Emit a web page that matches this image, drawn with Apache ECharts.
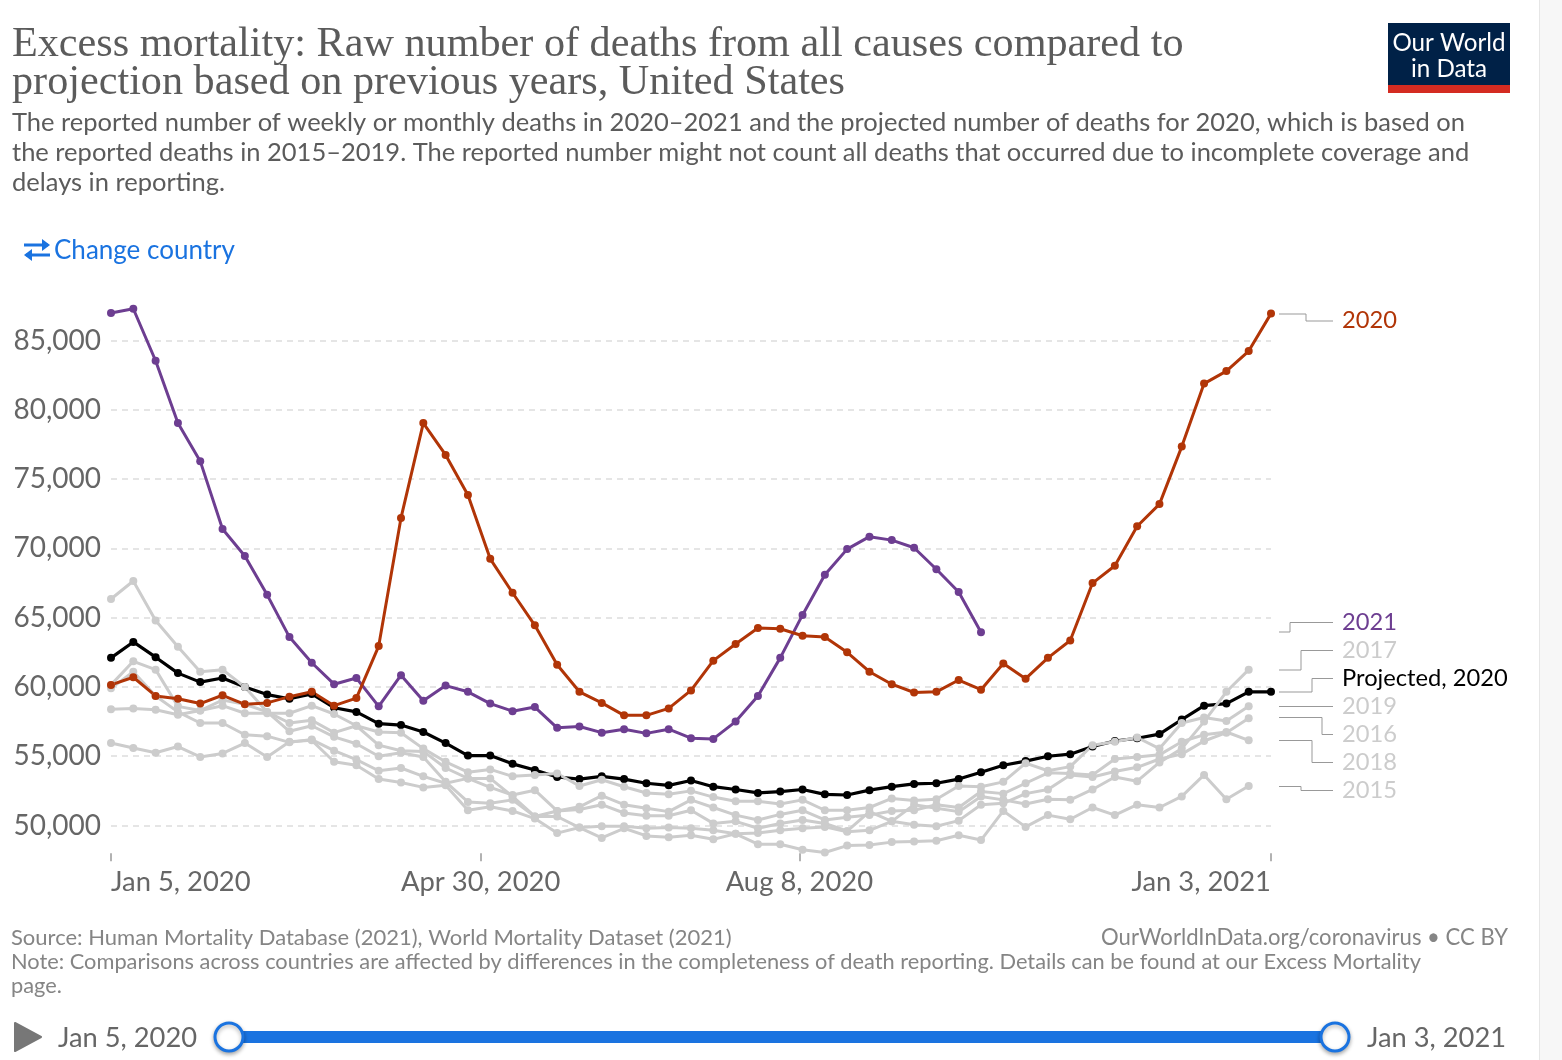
<!DOCTYPE html>
<html>
<head>
<meta charset="utf-8">
<title>Excess mortality, United States</title>
<script src="https://cdn.jsdelivr.net/npm/echarts@6/dist/echarts.min.js"></script>
<style>
html, body { margin: 0; padding: 0; background: #fff; overflow: hidden; }
#chart { width: 1562px; height: 1060px; }
</style>
</head>
<body>
<div id="chart"></div>
<script>
// weekly dates, week 1 to week 53
var weeks = [
  '2020-01-05','2020-01-12','2020-01-19','2020-01-26','2020-02-02','2020-02-09','2020-02-16','2020-02-23',
  '2020-03-01','2020-03-08','2020-03-15','2020-03-22','2020-03-29','2020-04-05','2020-04-12','2020-04-19',
  '2020-04-26','2020-05-03','2020-05-10','2020-05-17','2020-05-24','2020-05-31','2020-06-07','2020-06-14',
  '2020-06-21','2020-06-28','2020-07-05','2020-07-12','2020-07-19','2020-07-26','2020-08-02','2020-08-09',
  '2020-08-16','2020-08-23','2020-08-30','2020-09-06','2020-09-13','2020-09-20','2020-09-27','2020-10-04',
  '2020-10-11','2020-10-18','2020-10-25','2020-11-01','2020-11-08','2020-11-15','2020-11-22','2020-11-29',
  '2020-12-06','2020-12-13','2020-12-20','2020-12-27','2021-01-03'
];
var xTickDates = ['2020-01-05', '2020-04-30', '2020-08-08', '2021-01-03'];
var xTickLabels = ['Jan 5, 2020', 'Apr 30, 2020', 'Aug 8, 2020', 'Jan 3, 2021'];
var yTicks = [50000, 55000, 60000, 65000, 70000, 75000, 80000, 85000];

var deaths2021 = [87000,87300,83550,79050,76300,71400,69450,66650,63600,61750,60200,60650,58600,60850,59000,60100,
  59650,58800,58250,58550,57050,57150,56700,56950,56650,56950,56300,56250,57500,59350,62100,65200,68100,69950,
  70850,70600,70050,68500,66850,63950];
var deaths2020 = [60150,60700,59350,59150,58800,59400,58750,58850,59300,59650,58650,59200,62950,72200,79050,76750,
  73850,69250,66800,64450,61600,59650,58850,57950,57950,58450,59750,61900,63100,64250,64200,63700,63600,62500,
  61100,60200,59600,59650,60500,59800,61700,60600,62100,63350,67500,68750,71600,73200,77350,81900,82800,84250,86950];
var projected2020 = [62100,63250,62150,61000,60350,60650,60000,59450,59150,59500,58500,58200,57350,57250,56750,55950,
  55050,55050,54450,54000,53500,53350,53550,53350,53050,52900,53250,52800,52600,52350,52450,52600,52250,52200,
  52550,52800,53000,53050,53350,53850,54350,54650,55000,55150,55700,56100,56300,56600,57650,58650,58800,59650,59650];
var deaths2015 = [55950,55600,55250,55700,54950,55200,55950,54950,56050,56150,54600,54350,53350,53100,52750,52900,
  51100,51350,51050,50500,49450,49850,49100,49800,49250,49150,49300,49000,49400,48650,48650,48250,48050,48550,
  48600,48800,48850,48900,49300,48950,51050,49900,50750,50450,51300,50750,51500,51300,52100,53650,51900,52850];
var deaths2016 = [59900,61100,59350,58200,57400,57400,56550,56450,56000,56200,55400,54750,53950,54150,53550,53050,
  53400,53400,52100,50650,50650,49850,49950,49950,49800,49850,49800,49650,49400,49450,49650,49800,49900,49550,
  49650,50300,50050,49950,50350,51500,51600,52300,52600,53650,53500,53900,54200,54800,55150,56100,56700,57750];
var deaths2017 = [60150,61850,61250,58600,58300,59050,58750,58200,56800,57200,56400,55900,55000,55250,54950,53150,
  51700,51600,51850,50650,51050,51150,51500,50900,50700,50700,51100,50150,50300,49800,50150,50400,50150,49600,
  51000,50300,51500,51250,51000,52100,51850,51550,51900,51850,52600,53500,53200,54550,55550,57500,59650,61250];
var deaths2018 = [66350,67650,64800,62900,61100,61250,60000,58200,57400,57600,56700,57200,55800,55400,55350,54150,
  53400,52750,52200,52550,51050,51350,52150,51500,51250,51000,51850,51300,50750,50400,50800,51100,50400,50600,
  50750,51050,51100,51500,51300,52450,52300,53050,53800,53750,53650,54800,54950,55100,56050,56550,56750,56150];
var deaths2019 = [58400,58450,58350,58000,58300,58650,58100,58100,58100,58650,58050,57200,56750,56700,55550,54600,
  53850,54050,53550,53650,53750,52850,53300,52800,52350,52250,52500,52050,51750,51750,51550,51850,51100,51100,
  51300,51950,51800,51900,52850,52800,53150,54500,53950,54250,55800,56050,56350,55550,57400,57800,57550,58600];

var RED = '#b13507', PURPLE = '#6d3e91', GREY = '#cccccc', BLACK = '#000000';
var TEXT = '#5b5b5b', AXIS_TEXT = '#666666', FOOT = '#858585', BLUE = '#1a73e0';

var weekTimes = weeks.map(function (d) { return +echarts.time.parse(d); });
var xTickTimes = xTickDates.map(function (d) { return +echarts.time.parse(d); });

function lineSeries(name, values, color, width) {
  return {
    name: name,
    type: 'line',
    data: values.map(function (v, i) { return [weekTimes[i], v]; }),
    showSymbol: true,
    showAllSymbol: true,
    symbol: 'circle',
    symbolSize: 8,
    lineStyle: { color: color, width: width },
    itemStyle: { color: color },
    emphasis: { disabled: true }
  };
}

function txt(x, y, text, size, color, extra) {
  var style = {
    text: text,
    x: x,
    y: y + 1,
    fill: color,
    font: size + 'px Lato',
    textVerticalAlign: 'middle'
  };
  for (var k in extra) style[k] = extra[k];
  return { type: 'text', silent: true, style: style };
}

function connector(pts) {
  return { type: 'polyline', silent: true, shape: { points: pts }, style: { stroke: '#999', lineWidth: 1, fill: null } };
}

// right hand labels with their stepped leader lines
var rowLabels = [
  ['2020', RED, 320, [[1279, 314], [1306, 314], [1306, 321], [1333, 321]]],
  ['2021', PURPLE, 622, [[1279, 632], [1290, 632], [1290, 622.5], [1333, 622.5]]],
  ['2017', GREY, 650, [[1279, 670], [1301, 670], [1301, 650.5], [1333, 650.5]]],
  ['Projected, 2020', BLACK, 678, [[1279, 692], [1312, 692], [1312, 678.5], [1333, 678.5]]],
  ['2019', GREY, 706, [[1279, 706.5], [1333, 706.5]]],
  ['2016', GREY, 734, [[1279, 717.5], [1322, 717.5], [1322, 734.5], [1333, 734.5]]],
  ['2018', GREY, 762, [[1279, 740.5], [1312, 740.5], [1312, 762.5], [1333, 762.5]]],
  ['2015', GREY, 790, [[1279, 786.5], [1301, 786.5], [1301, 790.5], [1333, 790.5]]]
];

var graphics = [
  // page edge on the right
  { type: 'rect', silent: true, shape: { x: 1540, y: 0, width: 22, height: 1060 }, style: { fill: '#f7f7f7' } },
  { type: 'rect', silent: true, shape: { x: 1539, y: 0, width: 1, height: 1060 }, style: { fill: '#e6e6e6' } },

  // header
  { type: 'text', silent: true, style: { text: 'Excess mortality: Raw number of deaths from all causes compared to', x: 12, y: 45, fill: TEXT, font: '42.2px "Liberation Serif"', textVerticalAlign: 'middle' } },
  { type: 'text', silent: true, style: { text: 'projection based on previous years, United States', x: 12, y: 83, fill: TEXT, font: '42.2px "Liberation Serif"', textVerticalAlign: 'middle' } },
  txt(12, 122, 'The reported number of weekly or monthly deaths in 2020\u20132021 and the projected number of deaths for 2020, which is based on', 25.5, TEXT),
  txt(12, 152, 'the reported deaths in 2015\u20132019. The reported number might not count all deaths that occurred due to incomplete coverage and', 25.5, TEXT),
  txt(12, 182, 'delays in reporting.', 25.5, TEXT),

  // logo
  { type: 'rect', silent: true, shape: { x: 1388, y: 23, width: 122, height: 70 }, style: { fill: '#002147' } },
  { type: 'rect', silent: true, shape: { x: 1388, y: 85, width: 122, height: 8 }, style: { fill: '#d42b21' } },
  txt(1449, 42, 'Our World', 24.2, '#fff', { textAlign: 'center' }),
  txt(1449, 68, 'in Data', 24.2, '#fff', { textAlign: 'center' }),

  // change country
  { type: 'polyline', silent: true, shape: { points: [[24, 245], [48, 245]] }, style: { stroke: BLUE, lineWidth: 3 } },
  { type: 'polygon', silent: true, shape: { points: [[50, 245], [42, 239], [42, 251]] }, style: { fill: BLUE } },
  { type: 'polyline', silent: true, shape: { points: [[26, 255], [50, 255]] }, style: { stroke: BLUE, lineWidth: 3 } },
  { type: 'polygon', silent: true, shape: { points: [[24, 255], [32, 249], [32, 261]] }, style: { fill: BLUE } },
  txt(54, 250, 'Change country', 26, BLUE),

  // footer
  txt(11, 937, 'Source: Human Mortality Database (2021), World Mortality Dataset (2021)', 22, FOOT),
  txt(1508, 937, 'OurWorldInData.org/coronavirus \u2022 CC BY', 22.1, FOOT, { textAlign: 'right' }),
  txt(11, 961, 'Note: Comparisons across countries are affected by differences in the completeness of death reporting. Details can be found at our Excess Mortality', 21.8, FOOT),
  txt(11, 985, 'page.', 21.8, FOOT),

  // time slider
  { type: 'polygon', silent: true, shape: { points: [[15, 1023], [41, 1037], [15, 1051]] }, style: { fill: '#777', stroke: '#777', lineWidth: 2, lineJoin: 'round' } },
  txt(58, 1037, 'Jan 5, 2020', 27.3, AXIS_TEXT),
  { type: 'rect', silent: true, shape: { x: 229, y: 1031, width: 1106, height: 12 }, style: { fill: BLUE } },
  { type: 'circle', silent: true, shape: { cx: 229, cy: 1037, r: 14 }, style: { fill: '#fff', stroke: BLUE, lineWidth: 3, shadowBlur: 4, shadowColor: 'rgba(0,0,0,0.3)', shadowOffsetY: 2 } },
  { type: 'circle', silent: true, shape: { cx: 1335, cy: 1037, r: 14 }, style: { fill: '#fff', stroke: BLUE, lineWidth: 3, shadowBlur: 4, shadowColor: 'rgba(0,0,0,0.3)', shadowOffsetY: 2 } },
  txt(1367, 1037, 'Jan 3, 2021', 27.3, AXIS_TEXT)
];
rowLabels.forEach(function (r) {
  graphics.push(connector(r[3]));
  graphics.push(txt(1342, r[2] - 1, r[0], 23.7, r[1]));
});

var chart = echarts.init(document.getElementById('chart'));
chart.setOption({
  animation: false,
  backgroundColor: '#fff',
  textStyle: { fontFamily: 'Lato' },
  grid: { left: 111, right: 291, top: 306, bottom: 206.8, containLabel: false },
  xAxis: {
    // dates as a plain numeric scale, the time scale breaks on custom ticks
    type: 'value',
    min: weekTimes[0],
    max: weekTimes[weekTimes.length - 1],
    axisLine: { show: false },
    splitLine: { show: false },
    axisTick: { show: true, length: 8, customValues: xTickTimes, lineStyle: { color: '#999', width: 1.5 } },
    axisLabel: {
      show: true,
      customValues: xTickTimes,
      margin: 15,
      fontSize: 27.4,
      fontFamily: 'Lato',
      color: AXIS_TEXT,
      hideOverlap: false,
      alignMinLabel: 'left',
      alignMaxLabel: 'right',
      formatter: function (v) { return xTickLabels[xTickTimes.indexOf(v)]; }
    }
  },
  yAxis: {
    type: 'value',
    min: 48000,
    max: 87500,
    axisLine: { show: false },
    axisTick: { show: false, customValues: yTicks },
    axisLabel: {
      customValues: yTicks,
      margin: 10,
      fontSize: 28,
      fontFamily: 'Lato',
      color: AXIS_TEXT,
      formatter: function (v) { return v.toLocaleString('en-US'); }
    },
    splitLine: { show: true, lineStyle: { color: '#dddddd', type: [6, 5], width: 1.5 } }
  },
  series: [
    lineSeries('Projected, 2020', projected2020, BLACK, 3.2),
    lineSeries('2015', deaths2015, GREY, 3),
    lineSeries('2016', deaths2016, GREY, 3),
    lineSeries('2017', deaths2017, GREY, 3),
    lineSeries('2018', deaths2018, GREY, 3),
    lineSeries('2019', deaths2019, GREY, 3),
    lineSeries('2021', deaths2021, PURPLE, 3),
    lineSeries('2020', deaths2020, RED, 3)
  ],
  graphic: graphics
});
</script>
</body>
</html>
